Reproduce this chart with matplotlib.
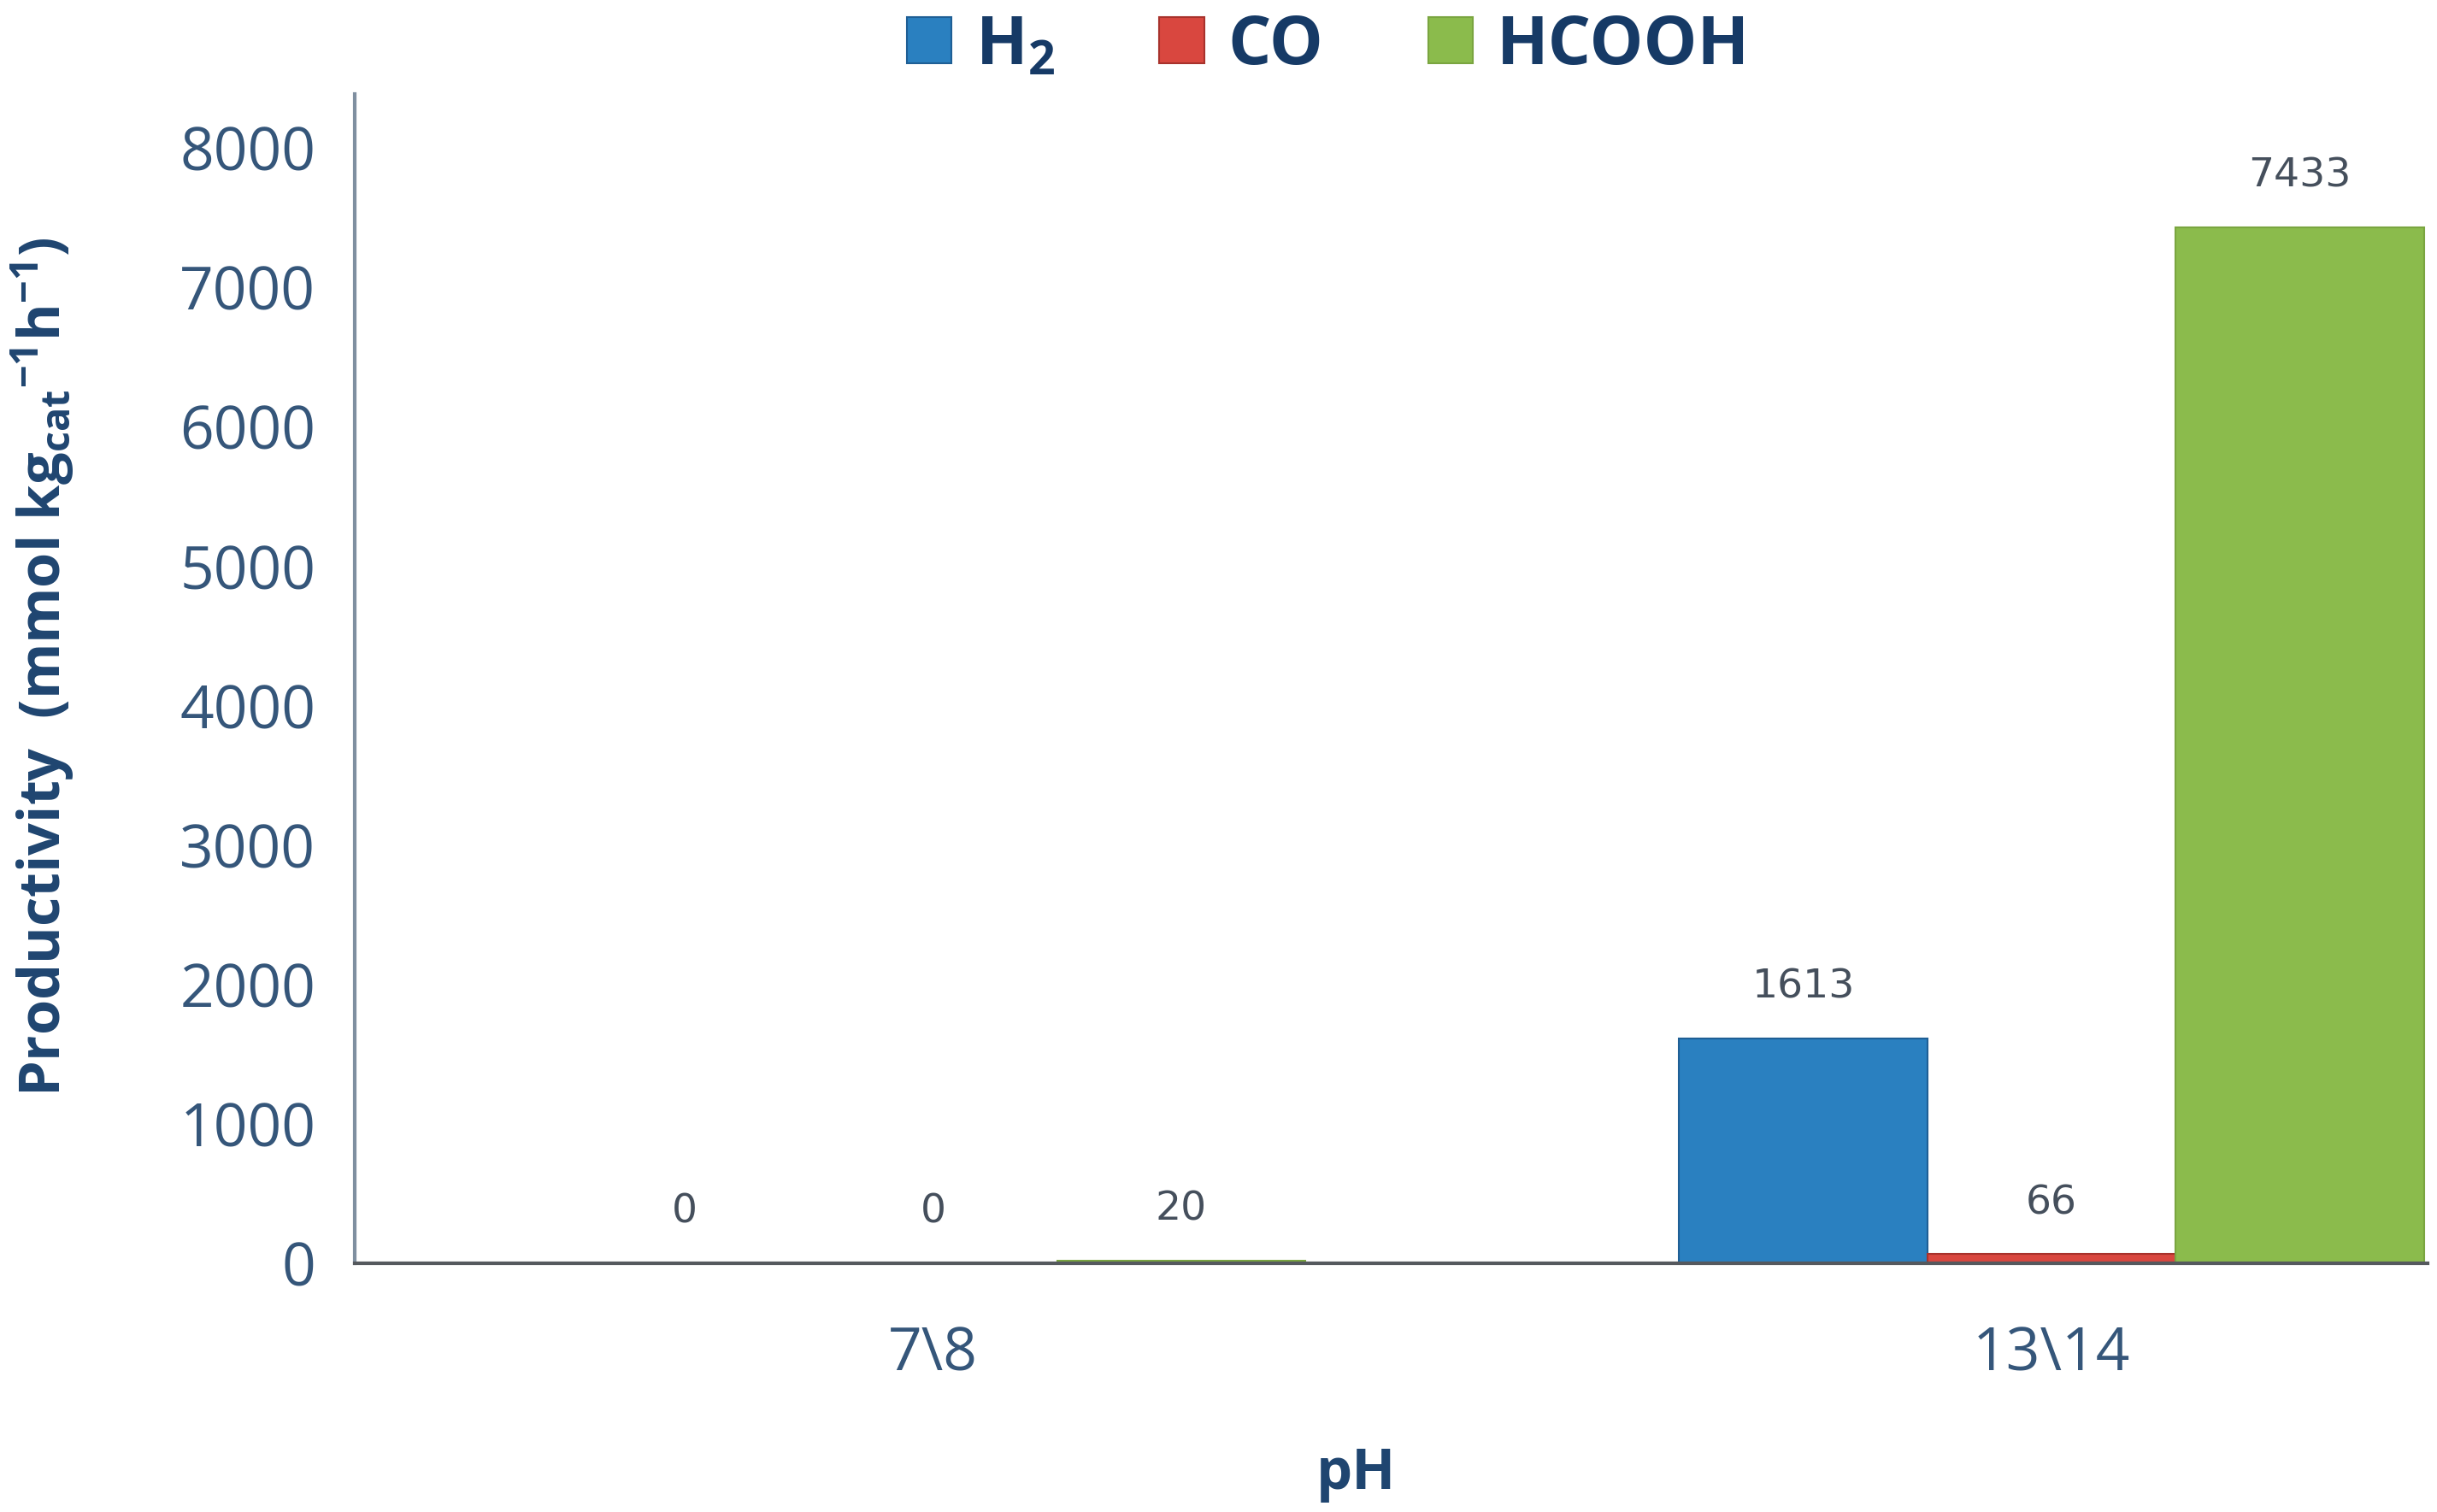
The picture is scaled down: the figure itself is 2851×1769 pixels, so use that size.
import matplotlib
matplotlib.use("Agg")
import matplotlib.pyplot as plt
import numpy as np

# data
categories = ["7\\8", "13\\14"]
series_names = ["H$_\\mathbf{2}$", "CO", "HCOOH"]
h2_values = [0, 1613]
co_values = [0, 66]
hcooh_values = [20, 7433]
series_colors = ["#2a80c0", "#d9473f", "#8bbb4c"]
edge_colors = ["#1f5f95", "#a8322c", "#7aa540"]
y_ticks = [0, 1000, 2000, 3000, 4000, 5000, 6000, 7000, 8000]

plt.rcParams["font.family"] = ["Open Sans", "DejaVu Sans"]
plt.rcParams["mathtext.fontset"] = "custom"
plt.rcParams["mathtext.rm"] = "Open Sans"
plt.rcParams["mathtext.bf"] = "Open Sans:bold"

tick_color = "#35567a"
label_color = "#1f4570"
value_color = "#454f5c"

fig = plt.figure(figsize=(28.51, 17.69), dpi=100)
ax = fig.add_axes([0.1456, 0.1645, 0.8504, 0.7735])

x = np.arange(len(categories))
width = 0.222
all_values = [h2_values, co_values, hcooh_values]
for i, (vals, name, col, ec) in enumerate(zip(all_values, series_names, series_colors, edge_colors)):
    pos = x + (i - 1) * width
    ax.bar(pos, vals, width, color=col, edgecolor=ec, linewidth=1.5, label=name, zorder=2)
    for px, v in zip(pos, vals):
        ax.annotate(str(v), (px, v), xytext=(0, 43), textcoords="offset points",
                    ha="center", va="center", fontsize=34, color=value_color,
                    family=["Liberation Sans Narrow", "DejaVu Sans"])

ax.set_xlim(-0.517, 1.336)
ax.set_ylim(0, 8390)
ax.set_xticks(x)
ax.set_xticklabels(categories)
ax.set_yticks(y_ticks)
ax.tick_params(axis="both", length=0, labelsize=50, labelcolor=tick_color)
ax.tick_params(axis="y", pad=33)
ax.tick_params(axis="x", pad=52)

for side in ["top", "right"]:
    ax.spines[side].set_visible(False)
ax.spines["left"].set_color("#7f8fa0")
ax.spines["left"].set_linewidth(3)
ax.spines["bottom"].set_color("#55595e")
ax.spines["bottom"].set_linewidth(3)

ax.set_ylabel("Productivity  (mmol kg$_\\mathbf{cat}$$^\\mathbf{-1}$h$^\\mathbf{-1}$)",
              fontsize=48, fontweight="bold", color=label_color)
ax.yaxis.set_label_coords(-0.134, 0.51)
ax.set_xlabel("pH", fontsize=48, fontweight="bold", color=label_color)
ax.xaxis.set_label_coords(0.483, -0.156)

leg = fig.legend(loc="upper center", bbox_to_anchor=(0.545, 1.032), ncol=3,
                 frameon=False, handlelength=0.66, handleheight=0.66,
                 handletextpad=0.35, columnspacing=1.55, prop={"weight": "bold", "size": 57})
for t in leg.get_texts():
    t.set_color("#163a66")

fig.savefig("out.png", dpi=100)
